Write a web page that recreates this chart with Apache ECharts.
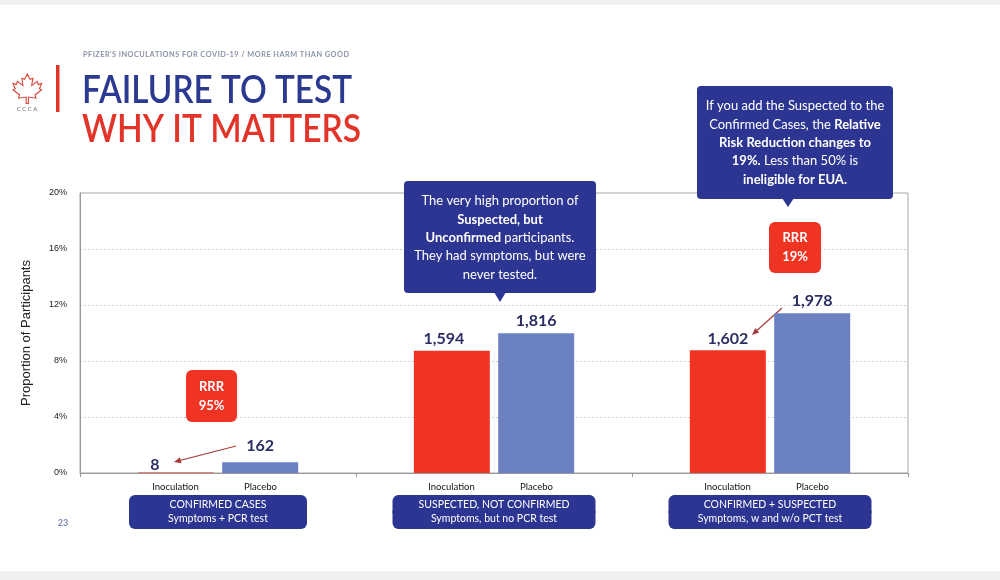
<!DOCTYPE html>
<html><head><meta charset="utf-8">
<script src="https://cdn.jsdelivr.net/npm/echarts@6/dist/echarts.min.js"></script>
<style>html,body{margin:0;padding:0;background:#fff}#c{width:1000px;height:580px}</style>
</head><body><div id="c"></div>
<script>
// ---- data ----
const groups = ['Confirmed', 'Suspected', 'Combined'];
const groupTitles = ['CONFIRMED CASES', 'SUSPECTED, NOT CONFIRMED', 'CONFIRMED + SUSPECTED'];
const groupSubtitles = ['Symptoms + PCR test', 'Symptoms, but no PCR test', 'Symptoms, w and w/o PCT test'];
const barNames = ['Inoculation', 'Placebo'];
const inoculationPct = [0.03, 8.74, 8.76];
const placeboPct = [0.76, 9.98, 11.41];
const inoculationCounts = [8, 1594, 1602];
const placeboCounts = [162, 1816, 1978];
const yTicks = [0, 4, 8, 12, 16, 20];

// ---- styles ----
const NAVY = '#2c3592';
const RED = '#f03424';
const BLUE = '#6b81c1';
const LABEL = '#2b2e63';
const FONT = 'Lato, "Noto Sans", sans-serif';

const inocLabelOffsets = [[-21, 4], [-8, 0], [0, 0]];
const placLabelOffsets = [[0, -5], [0, 0], [0, 0]];
const boxStyles = ['n', 'w', 'w'];

const chart = echarts.init(document.getElementById('c'), null, {renderer: 'canvas'});

function measure(text, font) {
  const c = document.createElement('canvas').getContext('2d');
  c.font = font;
  return c.measureText(text).width;
}
function fitText(text, x, y, size, weight, color, targetW) {
  const f = weight + ' ' + size + 'px ' + FONT;
  const w = measure(text, f);
  return {type: 'text', x: x, y: y, scaleX: targetW / w,
    style: {text: text, font: f, fill: color, align: 'left', verticalAlign: 'middle'}};
}
function arrow(x1, y1, x2, y2, color) {
  const dx = x2 - x1, dy = y2 - y1, L = Math.sqrt(dx * dx + dy * dy);
  const ux = dx / L, uy = dy / L, px = -uy, py = ux, back = 7, half = 3;
  const bx = x2 - ux * back, by = y2 - uy * back;
  return [
    {type: 'line', shape: {x1: x1, y1: y1, x2: bx, y2: by}, style: {stroke: color, lineWidth: 1.2}},
    {type: 'polygon', shape: {points: [[x2, y2], [bx + px * half, by + py * half], [bx - px * half, by - py * half]]}, style: {fill: color}}
  ];
}
function callout(x, y, w, h, tipX, tipY, text, cx, cy) {
  return [
    {type: 'rect', shape: {x: x, y: y, width: w, height: h, r: 4}, style: {fill: NAVY}, z: 100},
    {type: 'polygon', shape: {points: [[tipX - 6, y + h - 1], [tipX + 6, y + h - 1], [tipX, tipY]]}, style: {fill: NAVY}, z: 100},
    {type: 'text', x: cx, y: cy, z: 101, scaleX: 1.04, style: {text: text, align: 'center', verticalAlign: 'middle',
      fill: '#fff', font: '12.5px ' + FONT, lineHeight: 18.3,
      rich: {b: {fontWeight: 'bold', fontSize: 12.5, fontFamily: FONT, fill: '#fff', lineHeight: 18.3},
             r: {fontSize: 12.5, fontFamily: FONT, fill: '#fff', lineHeight: 18.3}}}}
  ];
}
function redBox(x, y, w, h, text) {
  return [
    {type: 'rect', shape: {x: x, y: y, width: w, height: h, r: 6}, style: {fill: RED}, z: 100},
    {type: 'text', x: x + w / 2, y: y + h / 2, z: 101, style: {text: text, align: 'center', verticalAlign: 'middle',
      fill: '#fff', font: 'bold 13px ' + FONT, lineHeight: 19}}
  ];
}

const leafPts = [[13,0],[15.5,5],[18,4],[17,11],[22,7],[23,10],[26,9],[24,14],[26,15],[20,20],[21,23],[14,22],[14,28],[12,28],[12,22],[5,23],[6,20],[0,15],[2,14],[0,9],[3,10],[4,7],[9,11],[8,4],[10.5,5]];
const headerText = "PFIZER'S INOCULATIONS FOR COVID-19 / MORE HARM THAN GOOD".split('').join('\u200A');

const graphics = [
  {type: 'rect', shape: {x: 0, y: 0, width: 1000, height: 5}, style: {fill: '#efefef'}},
  {type: 'rect', shape: {x: 0, y: 571, width: 1000, height: 9}, style: {fill: '#efefef'}},
  fitText(headerText, 83, 55, 6.5, 'bold', '#8b93a9', 266),
  {type: 'rect', shape: {x: 56, y: 65, width: 3.5, height: 47}, style: {fill: '#e0352b'}},
  fitText('FAILURE TO TEST', 82, 91, 38, '600', '#2b3990', 270),
  fitText('WHY IT MATTERS', 82, 130, 38, '600', '#e3342a', 279),
  {type: 'polygon', x: 13, y: 74, scaleX: 1.1, scaleY: 1.05, shape: {points: leafPts}, style: {fill: 'none', stroke: '#d9463a', lineWidth: 1}},
  {type: 'text', x: 27, y: 109, style: {text: 'C C C A', font: '6px ' + FONT, fill: '#666', align: 'center', verticalAlign: 'middle'}},
  {type: 'text', x: 63, y: 523, style: {text: '23', font: 'bold 9px ' + FONT, fill: '#7d88b8', align: 'center', verticalAlign: 'middle'}},
  ...callout(404, 181, 192, 112, 500, 302,
    '{r|The very high proportion of}\n{b|Suspected, but}\n{b|Unconfirmed}{r| participants.}\n{r|They had symptoms, but were}\n{r|never tested.}', 500, 238),
  ...callout(697, 86, 196, 113, 788, 207,
    '{r|If you add the Suspected to the}\n{r|Confirmed Cases, the }{b|Relative}\n{b|Risk Reduction changes to}\n{b|19%.}{r| Less than 50% is}\n{b|ineligible for EUA.}', 795, 143),
  ...redBox(186, 370, 51, 52, 'RRR\n95%'),
  ...redBox(769, 222, 52, 51, 'RRR\n19%'),
  ...arrow(236, 446, 174, 462, '#a83a3a'),
  ...arrow(782, 308, 752, 335, '#a83a3a')
];

function buildData(vals, offsets) {
  return vals.map((v, i) => ({value: v, label: {offset: offsets[i]}}));
}

const boxRich = {
  i: {width: 85, align: 'center', fontSize: 9.5, fontFamily: FONT, color: '#111', height: 18, lineHeight: 18, verticalAlign: 'top'},
  p: {width: 85, align: 'center', fontSize: 9.5, fontFamily: FONT, color: '#111', height: 18, lineHeight: 18, verticalAlign: 'top'}
};
[['n', 178], ['w', 203]].forEach(([k, w]) => {
  boxRich['t' + k] = {width: w, height: 16, lineHeight: 16, align: 'center', backgroundColor: NAVY, color: '#fff',
    fontSize: 10.5, fontFamily: FONT, borderRadius: [6, 6, 0, 0], padding: [2, 0, 0, 0]};
  boxRich['s' + k] = {width: w, height: 16, lineHeight: 16, align: 'center', backgroundColor: NAVY, color: '#fff',
    fontSize: 10.5, fontFamily: FONT, borderRadius: [0, 0, 6, 6], padding: [0, 0, 2, 0]};
});

const option = {
  animation: false,
  backgroundColor: '#fff',
  grid: {left: 80, right: 92, top: 193, bottom: 107, show: true, borderColor: '#a8a8a8', borderWidth: 1},
  xAxis: {
    type: 'category', data: groups,
    axisLine: {lineStyle: {color: '#999'}},
    axisTick: {show: true, length: 4, lineStyle: {color: '#999'}},
    axisLabel: {
      interval: 0, margin: 5,
      formatter: (v, i) => '{i|' + barNames[0] + '}{p|' + barNames[1] + '}\n{t' + boxStyles[i] + '|' + groupTitles[i] + '}\n{s' + boxStyles[i] + '|' + groupSubtitles[i] + '}',
      rich: boxRich
    }
  },
  yAxis: {
    type: 'value', min: yTicks[0], max: yTicks[yTicks.length - 1], interval: yTicks[1] - yTicks[0],
    name: 'Proportion of Participants', nameLocation: 'middle', nameGap: 47, nameRotate: 90,
    nameTextStyle: {fontSize: 13, fontFamily: '"Liberation Sans", Arial, sans-serif', color: '#222'},
    axisLine: {show: true, lineStyle: {color: '#999'}},
    axisTick: {show: false},
    axisLabel: {formatter: '{value}%', fontSize: 9, fontFamily: '"Liberation Sans", Arial, sans-serif', color: '#222', margin: 13},
    splitLine: {lineStyle: {color: '#cfcfcf', type: [2, 2]}}
  },
  series: [
    {name: barNames[0], type: 'bar', data: buildData(inoculationPct, inocLabelOffsets), barWidth: 76, barGap: '11%',
      itemStyle: {color: RED},
      label: {show: true, position: 'top', distance: 4, fontSize: 16, fontWeight: 'bold', fontFamily: FONT, color: LABEL,
        formatter: p => inoculationCounts[p.dataIndex].toLocaleString('en-US')}},
    {name: barNames[1], type: 'bar', data: buildData(placeboPct, placLabelOffsets), barWidth: 76,
      itemStyle: {color: BLUE},
      label: {show: true, position: 'top', distance: 4, fontSize: 16, fontWeight: 'bold', fontFamily: FONT, color: LABEL,
        formatter: p => placeboCounts[p.dataIndex].toLocaleString('en-US')}}
  ],
  graphic: graphics
};
chart.setOption(option);
</script></body></html>
